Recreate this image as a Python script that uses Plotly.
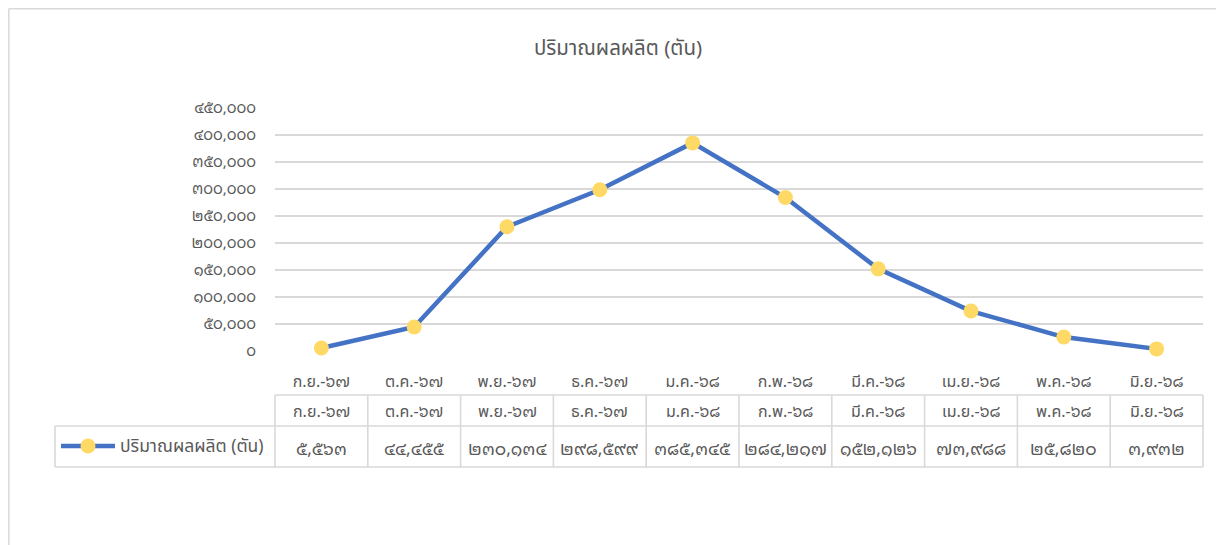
import re
import plotly.graph_objects as go

categories = ["ก.ย.-๖๗", "ต.ค.-๖๗", "พ.ย.-๖๗", "ธ.ค.-๖๗", "ม.ค.-๖๘",
              "ก.พ.-๖๘", "มี.ค.-๖๘", "เม.ย.-๖๘", "พ.ค.-๖๘", "มิ.ย.-๖๘"]
values = [5563, 44455, 230134, 298599, 385345, 284217, 152126, 73988, 25820, 3932]
series_name = "ปริมาณผลผลิต (ตัน)"
title_text = "ปริมาณผลผลิต (ตัน)"
y_ticks = [0, 50000, 100000, 150000, 200000, 250000, 300000, 350000, 400000, 450000]

THAI = str.maketrans("0123456789", "๐๑๒๓๔๕๖๗๘๙")


def thai_num(v):
    return f"{v:,}".translate(THAI)


TEXT_FONT = "Noto Sans Thai, Leelawadee UI, Tahoma, sans-serif"
DIGIT_FONT = "Noto Sans Thai Looped, Noto Sans Thai, Leelawadee UI, Tahoma, sans-serif"


def mixed(s):
    # render Thai digit runs in a font with traditional digit shapes
    return re.sub(r"([๐-๙]+)", r"<span style='font-family:Noto Sans Thai Looped'>\1</span>", s)


OFF = 8  # page body margin
W, H = 1224 - OFF, 545 - OFF
PL, PR, PT, PB = 275, 1203, 108, 351  # plot area in screen px
L, R, T, B = PL - OFF, W - (PR - OFF), PT - OFF, H - (PB - OFF)
PW, PH = PR - PL, PB - PT
GREY_TXT = "#595959"
GRID = "#d9d9d9"
LINE_C = "#4472C4"
MARK_C = "#FFD966"

n = len(categories)
xr = [-0.5, n - 0.5]


def px2x(px):
    return (px - PL) / PW


def py2y(py):
    return (PB - py) / PH


def col_edge(i):
    return (i - 0.5 - xr[0]) / (xr[1] - xr[0])


fig = go.Figure()
fig.add_trace(go.Scatter(
    x=list(range(n)), y=values, mode="lines+markers", name=series_name,
    line=dict(color=LINE_C, width=4.5),
    marker=dict(color=MARK_C, size=15, line=dict(width=0)),
    showlegend=False, cliponaxis=False,
))

shapes = []
annotations = []

# chart border
bx = OFF + 0.8
shapes.append(dict(type="line", xref="paper", yref="paper", x0=px2x(bx), x1=px2x(1240),
                   y0=py2y(bx), y1=py2y(bx), line=dict(color=GRID, width=1.5)))
shapes.append(dict(type="line", xref="paper", yref="paper", x0=px2x(bx), x1=px2x(bx),
                   y0=py2y(bx), y1=py2y(560), line=dict(color=GRID, width=1.5)))

# data table
row1_top, row2_top, row2_bot = 395, 426, 467
tl = dict(color=GRID, width=1.6)
shapes.append(dict(type="line", xref="paper", yref="paper", x0=col_edge(0), x1=col_edge(n),
                   y0=py2y(row1_top), y1=py2y(row1_top), line=tl))
shapes.append(dict(type="line", xref="paper", yref="paper", x0=px2x(55), x1=col_edge(n),
                   y0=py2y(row2_top), y1=py2y(row2_top), line=tl))
shapes.append(dict(type="line", xref="paper", yref="paper", x0=px2x(55), x1=col_edge(n),
                   y0=py2y(row2_bot), y1=py2y(row2_bot), line=tl))
shapes.append(dict(type="line", xref="paper", yref="paper", x0=px2x(55), x1=px2x(55),
                   y0=py2y(row2_top), y1=py2y(row2_bot), line=tl))
for i in range(n + 1):
    shapes.append(dict(type="line", xref="paper", yref="paper", x0=col_edge(i), x1=col_edge(i),
                       y0=py2y(row1_top), y1=py2y(row2_bot), line=tl))

for i, (c, v) in enumerate(zip(categories, values)):
    annotations.append(dict(x=i, xref="x", y=py2y((row1_top + row2_top) / 2), yref="paper",
                            text=mixed(c), showarrow=False, yanchor="middle",
                            font=dict(family=TEXT_FONT, size=16, color=GREY_TXT)))
    annotations.append(dict(x=i, xref="x", y=py2y((row2_top + row2_bot) / 2), yref="paper",
                            text=thai_num(v), showarrow=False, yanchor="middle",
                            font=dict(family=DIGIT_FONT, size=17.5, color=GREY_TXT)))

# legend key in table
ly = py2y(446)
shapes.append(dict(type="line", xref="paper", yref="paper", x0=px2x(61), x1=px2x(115),
                   y0=ly, y1=ly, line=dict(color=LINE_C, width=4.5)))
rx, ry = 7.5 / PW, 7.5 / PH
cx = px2x(88)
shapes.append(dict(type="circle", xref="paper", yref="paper", x0=cx - rx, x1=cx + rx,
                   y0=ly - ry, y1=ly + ry, fillcolor=MARK_C, line=dict(width=0)))
annotations.append(dict(x=px2x(118), xref="paper", y=ly, yref="paper", text=series_name,
                        showarrow=False, xanchor="left", yanchor="middle",
                        font=dict(family=TEXT_FONT, size=17.5, color=GREY_TXT)))

fig.update_layout(
    width=W, height=H,
    margin=dict(l=L, r=R, t=T, b=B),
    paper_bgcolor="white", plot_bgcolor="white",
    title=dict(text=title_text, x=(618 - OFF) / W, xref="container", xanchor="center",
               y=1 - (48 - OFF) / H, yref="container", yanchor="middle",
               font=dict(family=TEXT_FONT, size=20.5, color=GREY_TXT)),
    xaxis=dict(range=xr, tickvals=list(range(n)), ticktext=[mixed(c) for c in categories],
               showgrid=False, zeroline=False, showline=False, ticks="",
               ticklabelstandoff=19,
               tickfont=dict(family=TEXT_FONT, size=16, color=GREY_TXT)),
    yaxis=dict(range=[0, y_ticks[-1]], tickvals=y_ticks,
               ticktext=[thai_num(t) for t in y_ticks],
               showgrid=True, gridcolor=GRID, gridwidth=1.5, zeroline=False,
               showline=False, ticks="", ticklabelstandoff=18,
               tickfont=dict(family=DIGIT_FONT, size=15, color=GREY_TXT)),
    shapes=shapes, annotations=annotations,
    font=dict(family=TEXT_FONT),
)

fig.write_html("out.html")
